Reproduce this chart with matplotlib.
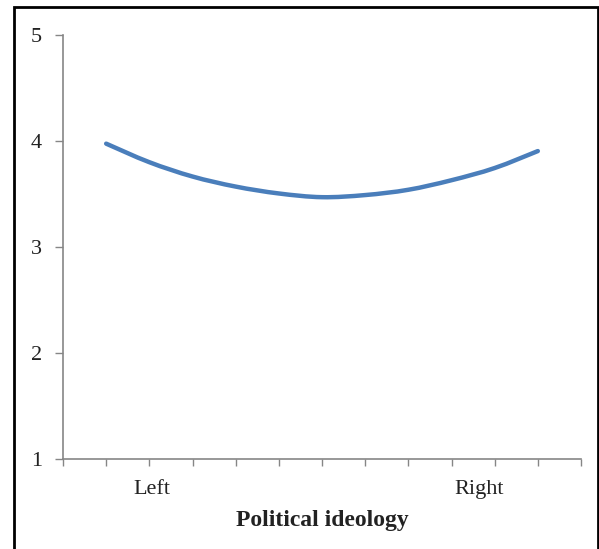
import matplotlib
matplotlib.use('Agg')
import matplotlib.pyplot as plt
from matplotlib.lines import Line2D
from matplotlib.path import Path
from matplotlib.patches import PathPatch

# ideology position (category ticks) and predicted value
ideology = [1, 2, 3, 4, 5, 6, 7, 8, 9, 10, 11]
values = [3.975, 3.80, 3.665, 3.57, 3.505, 3.47, 3.49, 3.54, 3.63, 3.745, 3.905]
yticks = [1, 2, 3, 4, 5]
xlabels = {'Left': 2.05, 'Right': 9.65}

plt.rcParams['font.family'] = ['Liberation Serif', 'DejaVu Serif']

fig = plt.figure(figsize=(5.99, 5.49), dpi=100)
ax = fig.add_axes([63/599, 1 - 459/549, (581 - 63)/599, (459 - 35)/549])

# smoothed line (Excel style): cubic bezier segments through the data points
pts = list(zip(ideology, values))
verts = [pts[0]]
codes = [Path.MOVETO]
for i in range(len(pts) - 1):
    p0 = pts[max(i - 1, 0)]
    p1 = pts[i]
    p2 = pts[i + 1]
    p3 = pts[min(i + 2, len(pts) - 1)]
    c1 = (p1[0] + (p2[0] - p0[0]) / 6, p1[1] + (p2[1] - p0[1]) / 6)
    c2 = (p2[0] - (p3[0] - p1[0]) / 6, p2[1] - (p3[1] - p1[1]) / 6)
    verts += [c1, c2, p2]
    codes += [Path.CURVE4] * 3
ax.add_patch(PathPatch(Path(verts, codes), fill=False, edgecolor='#4a7ebb', lw=3.2,
                       capstyle='round', joinstyle='round'))

ax.set_xlim(0, 12)
ax.set_ylim(1, 5)
ax.set_xticks(range(13))
ax.set_xticklabels([])
ax.set_yticks(yticks)
ax.set_yticklabels([str(v) for v in yticks], fontsize=16, color='#222222')
ax.tick_params(axis='both', direction='out', length=6, width=1, color='#868686', pad=9)
ax.tick_params(axis='x', length=5)
for s in ['top', 'right']:
    ax.spines[s].set_visible(False)
for s in ['left', 'bottom']:
    ax.spines[s].set_color('#868686')
    ax.spines[s].set_linewidth(1.2)

for lab, xp in xlabels.items():
    ax.text(xp, -0.0708, lab, ha='center', va='center', fontsize=16, color='#222222',
            transform=ax.get_xaxis_transform())
ax.text(6.0, -0.146, 'Political ideology', ha='center', va='center', fontsize=17,
        fontweight='bold', color='#222222', transform=ax.get_xaxis_transform())

# frame around the chart (open at the bottom)
fx = lambda p: p / 599
fy = lambda p: 1 - p / 549
fig.add_artist(Line2D([fx(14), fx(14), fx(597.5), fx(597.5)], [0, fy(7), fy(7), 0],
                      color='black', lw=2, solid_joinstyle='miter'))

fig.savefig('out.png', dpi=100)
